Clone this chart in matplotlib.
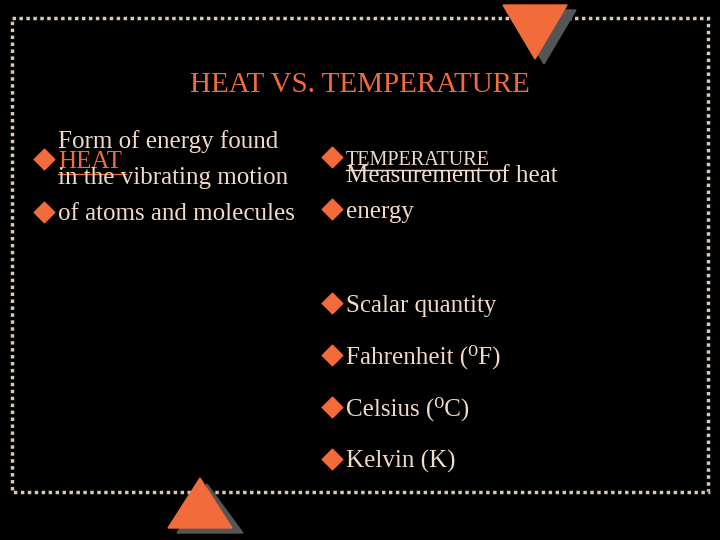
import matplotlib
matplotlib.use("Agg")
import matplotlib.pyplot as plt
from matplotlib.patches import Polygon, Rectangle

title = "HEAT VS. TEMPERATURE"
left_items = ["HEAT", "Form of energy found\nin the vibrating motion\nof atoms and molecules"]
right_items = ["TEMPERATURE", "Measurement of heat\nenergy", "Scalar quantity",
               "Fahrenheit (\u2070F)", "Celsius (\u2070C)", "Kelvin (K)"]

orange = "#f26b3a"
txt = "#f3d9c8"

fig = plt.figure(figsize=(7.2, 5.4), dpi=100, facecolor="black")
ax = fig.add_axes([0, 0, 1, 1])
ax.set_xlim(0, 720)
ax.set_ylim(540, 0)
ax.axis("off")
ax.set_facecolor("black")

# dotted frame
ax.add_patch(Rectangle((12, 18), 696, 474, fill=False, ec="#d8c8b8", lw=2.5, ls=(0, (1, 1))))

# triangles
ax.add_patch(Polygon([[512, 10], [576, 10], [544, 64]], color="#555555", zorder=3))
ax.add_patch(Polygon([[503, 5], [567, 5], [535, 59]], color=orange, zorder=4))
ax.add_patch(Polygon([[207, 484], [177, 533], [243, 533]], color="#555555", zorder=3))
ax.add_patch(Polygon([[200, 478], [168, 528], [232, 528]], color=orange, zorder=4))

font = ["Liberation Serif", "DejaVu Serif"]
ax.text(360, 92, title, color=orange, fontsize=21, family=font, ha="center", va="baseline")

def bullet(x, y):
    ax.scatter([x], [y], marker="D", s=110, color=orange, zorder=5)

# left column
bullet(44, 159)
ax.text(58, 168, left_items[0], color=orange, fontsize=18, family=font, va="baseline")
ax.plot([58, 126], [174, 174], color=orange, lw=1)
bullet(44, 212)
ax.text(58, 220, left_items[1], color=txt, fontsize=18, family=font, va="baseline",
        linespacing=1.82)

# right column
bullet(332, 157)
ax.text(346, 165, right_items[0], color=txt, fontsize=14.5, family=font, va="baseline")
ax.plot([346, 504], [170, 170], color=txt, lw=1)
ys = [218, 312, 364, 416, 468]
for y, s in zip(ys, right_items[1:]):
    bullet(332, y - 9)
    ax.text(346, y, s, color=txt, fontsize=18, family=font, va="baseline", linespacing=1.82)

fig.savefig("out.png", dpi=100, facecolor="black")
